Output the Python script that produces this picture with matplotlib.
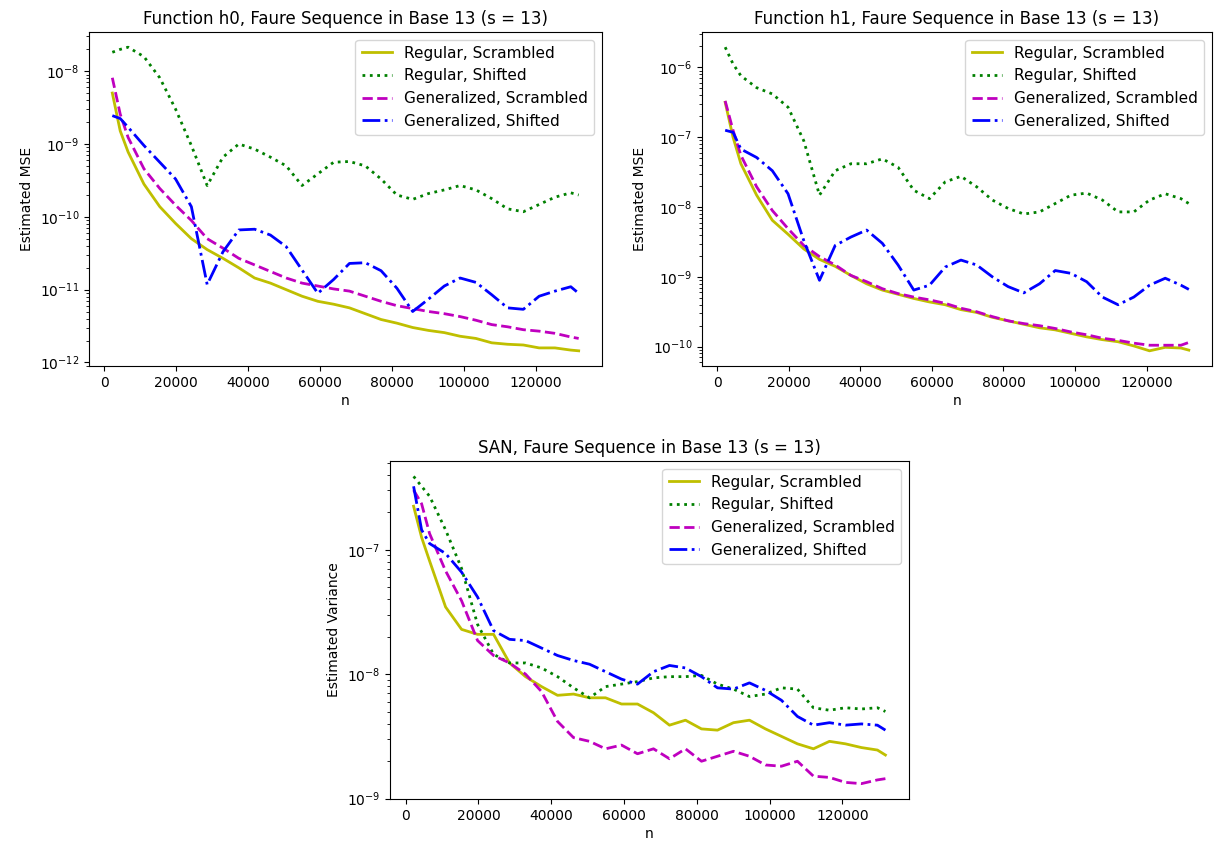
import numpy as np
import matplotlib
matplotlib.use("Agg")
import matplotlib.pyplot as plt

# sample sizes: multiples of 13^3
k = [1, 2, 3] + list(range(5, 60, 2)) + [60]
n = [2197 * i for i in k]

labels = ["Regular, Scrambled", "Regular, Shifted",
          "Generalized, Scrambled", "Generalized, Shifted"]
styles = ["y-", "g:", "m--", "b-."]

# log10 of the estimated errors
h0_reg_scr = [-8.30, -8.82, -9.11, -9.55, -9.86, -10.09, -10.30, -10.45, -10.57, -10.70, -10.84, -10.91,
              -11.00, -11.09, -11.16, -11.20, -11.25, -11.33, -11.41, -11.46, -11.52, -11.56, -11.59,
              -11.64, -11.67, -11.73, -11.75, -11.76, -11.80, -11.80, -11.83, -11.84]
h0_reg_shi = [-7.74, -7.70, -7.67, -7.80, -8.09, -8.52, -9.02, -9.57, -9.18, -9.00, -9.07, -9.18,
              -9.30, -9.57, -9.41, -9.25, -9.24, -9.30, -9.48, -9.70, -9.76, -9.68, -9.63,
              -9.57, -9.63, -9.75, -9.89, -9.93, -9.83, -9.73, -9.67, -9.70]
h0_gen_scr = [-8.09, -8.59, -8.91, -9.34, -9.61, -9.84, -10.05, -10.30, -10.43, -10.57, -10.66, -10.75,
              -10.84, -10.91, -10.95, -10.99, -11.02, -11.09, -11.16, -11.22, -11.26, -11.30, -11.33,
              -11.37, -11.42, -11.48, -11.51, -11.55, -11.57, -11.60, -11.65, -11.67]
h0_gen_shi = [-8.61, -8.65, -8.77, -9.02, -9.25, -9.48, -9.86, -10.93, -10.48, -10.18, -10.17, -10.25,
              -10.41, -10.73, -11.05, -10.86, -10.64, -10.63, -10.74, -10.98, -11.30, -11.13, -10.95,
              -10.84, -10.90, -11.07, -11.25, -11.27, -11.09, -11.02, -10.96, -11.05]

h1_reg_scr = [-6.50, -7.00, -7.38, -7.83, -8.19, -8.39, -8.60, -8.75, -8.85, -8.98, -9.10, -9.19,
              -9.25, -9.31, -9.36, -9.40, -9.47, -9.51, -9.58, -9.63, -9.68, -9.73, -9.76,
              -9.81, -9.86, -9.90, -9.93, -9.99, -10.06, -10.01, -10.02, -10.05]
h1_reg_shi = [-5.71, -5.95, -6.12, -6.29, -6.38, -6.57, -7.05, -7.83, -7.48, -7.38, -7.38, -7.31,
              -7.43, -7.76, -7.88, -7.64, -7.56, -7.71, -7.90, -8.02, -8.10, -8.07, -7.95,
              -7.83, -7.80, -7.90, -8.07, -8.07, -7.90, -7.81, -7.88, -7.95]
h1_gen_scr = [-6.48, -6.90, -7.26, -7.71, -8.05, -8.31, -8.55, -8.71, -8.83, -8.98, -9.07, -9.17,
              -9.24, -9.29, -9.33, -9.38, -9.45, -9.50, -9.57, -9.63, -9.67, -9.70, -9.74,
              -9.79, -9.83, -9.88, -9.91, -9.95, -9.98, -9.98, -9.98, -9.94]
h1_gen_shi = [-6.90, -6.93, -7.17, -7.29, -7.48, -7.81, -8.48, -9.05, -8.55, -8.43, -8.33, -8.52,
              -8.83, -9.19, -9.12, -8.86, -8.76, -8.83, -9.00, -9.14, -9.23, -9.10, -8.91,
              -8.95, -9.07, -9.29, -9.40, -9.29, -9.12, -9.02, -9.12, -9.18]

san_reg_scr = [-6.65, -6.90, -7.09, -7.46, -7.64, -7.68, -7.68, -7.91, -8.02, -8.10, -8.17, -8.16,
               -8.19, -8.19, -8.24, -8.24, -8.31, -8.41, -8.37, -8.44, -8.45, -8.39, -8.37,
               -8.44, -8.50, -8.56, -8.60, -8.54, -8.56, -8.59, -8.61, -8.65]
san_reg_shi = [-6.41, -6.49, -6.57, -6.84, -7.15, -7.60, -7.84, -7.91, -7.91, -7.95, -8.02, -8.11,
               -8.19, -8.10, -8.08, -8.06, -8.03, -8.02, -8.02, -8.01, -8.08, -8.12, -8.18,
               -8.16, -8.11, -8.12, -8.27, -8.29, -8.27, -8.28, -8.27, -8.30]
san_gen_scr = [-6.52, -6.63, -6.87, -7.17, -7.41, -7.73, -7.85, -7.91, -8.00, -8.14, -8.38, -8.51,
               -8.54, -8.60, -8.57, -8.64, -8.60, -8.68, -8.60, -8.70, -8.66, -8.62, -8.66,
               -8.73, -8.74, -8.70, -8.82, -8.83, -8.87, -8.88, -8.85, -8.84]
san_gen_shi = [-6.49, -6.84, -6.95, -7.03, -7.18, -7.38, -7.65, -7.72, -7.73, -7.79, -7.85, -7.89,
               -7.92, -7.98, -8.04, -8.08, -7.98, -7.93, -7.95, -8.02, -8.11, -8.12, -8.07,
               -8.13, -8.21, -8.34, -8.41, -8.39, -8.41, -8.40, -8.41, -8.45]

panels = [
    ("Function h0, Faure Sequence in Base 13 (s = 13)", "Estimated MSE",
     [h0_reg_scr, h0_reg_shi, h0_gen_scr, h0_gen_shi], [89, 32, 602, 366]),
    ("Function h1, Faure Sequence in Base 13 (s = 13)", "Estimated MSE",
     [h1_reg_scr, h1_reg_shi, h1_gen_scr, h1_gen_shi], [702, 32, 1212, 366]),
    ("SAN, Faure Sequence in Base 13 (s = 13)", "Estimated Variance",
     [san_reg_scr, san_reg_shi, san_gen_scr, san_gen_shi], [390, 461, 909, 799]),
]

W, H = 1214, 848
fig = plt.figure(figsize=(W / 100, H / 100), dpi=100)

for title, ylabel, series, (x0, y0, x1, y1) in panels:
    ax = fig.add_axes([x0 / W, 1 - y1 / H, (x1 - x0) / W, (y1 - y0) / H])
    for vals, st, lab in zip(series, styles, labels):
        ax.plot(n, np.power(10.0, vals), st, lw=2, label=lab)
    ax.set_yscale("log")
    ax.set_title(title, fontsize=12)
    ax.set_xlabel("n", labelpad=3)
    ax.set_ylabel(ylabel)
    ax.legend(loc="upper right", fontsize=11)

fig.savefig("out.png", dpi=100)
